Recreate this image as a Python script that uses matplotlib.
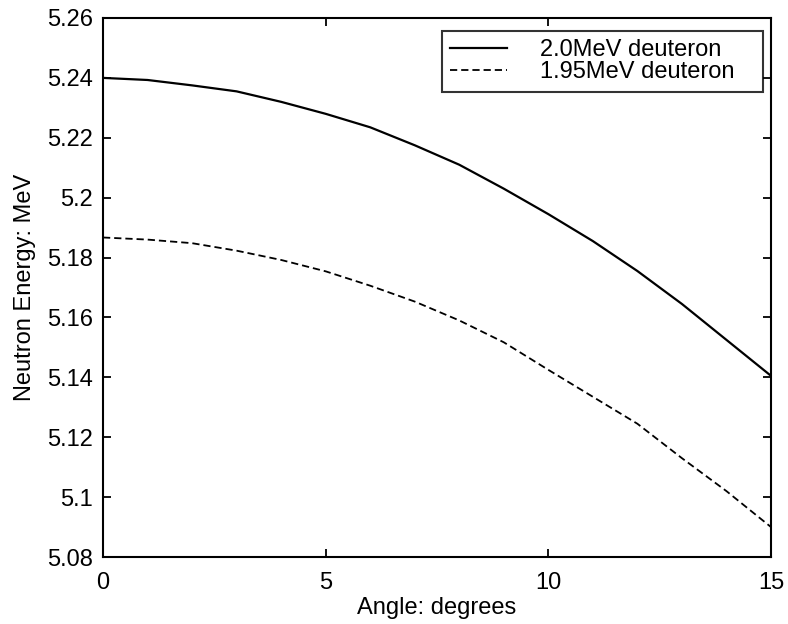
import numpy as np
import matplotlib.pyplot as plt

plt.rcParams['font.family'] = ['Liberation Sans', 'DejaVu Sans']

angle = np.arange(0, 16)
e_20 = [5.2400, 5.2393, 5.2375, 5.2355, 5.2320, 5.2280, 5.2235, 5.2175,
        5.2110, 5.2030, 5.1945, 5.1855, 5.1755, 5.1645, 5.1525, 5.1405]
e_195 = [5.1867, 5.1860, 5.1848, 5.1823, 5.1792, 5.1754, 5.1706, 5.1653,
         5.1590, 5.1517, 5.1425, 5.1335, 5.1245, 5.1130, 5.1020, 5.0900]
labels = ["2.0MeV deuteron", "1.95MeV deuteron"]

fig = plt.figure(figsize=(7.88, 6.24), dpi=100)
ax = fig.add_axes([103 / 788, 1 - 557 / 624, 668 / 788, 539 / 624])

ax.plot(angle, e_20, color="black", lw=1.6, label=labels[0])
ax.plot(angle, e_195, color="black", lw=1.3, dashes=(4, 2.2), label=labels[1])

ax.set_xlim(0, 15)
ax.set_ylim(5.08, 5.26)
ax.set_xticks([0, 5, 10, 15])
ax.set_yticks(np.round(np.arange(5.08, 5.2601, 0.02), 2))
ax.set_yticklabels(["5.08", "5.1", "5.12", "5.14", "5.16", "5.18", "5.2", "5.22", "5.24", "5.26"])
ax.tick_params(direction="in", length=6, width=1.3, top=True, right=True,
               labelsize=17)
ax.tick_params(axis="x", pad=11)
ax.tick_params(axis="y", pad=7)
for s in ax.spines.values():
    s.set_linewidth(1.5)

ax.set_xlabel("Angle: degrees", fontsize=17, labelpad=2)
ax.set_ylabel("Neutron Energy: MeV", fontsize=17, labelpad=8)

# legend box spans x 442..763 px, top at 31 px
x0 = (442 - 103) / 668
w = (763 - 442) / 668
top = (557 - 31) / 539
leg = ax.legend(loc="upper left", bbox_to_anchor=(x0, top - 0.2, w, 0.2), mode="expand",
                fontsize=17, frameon=True, fancybox=False, borderaxespad=0,
                handlelength=2.4, handletextpad=1.4, labelspacing=0.0,
                borderpad=0.35)
leg.get_frame().set_edgecolor("black")
leg.get_frame().set_linewidth(1.5)

fig.savefig("out.png", dpi=100)
